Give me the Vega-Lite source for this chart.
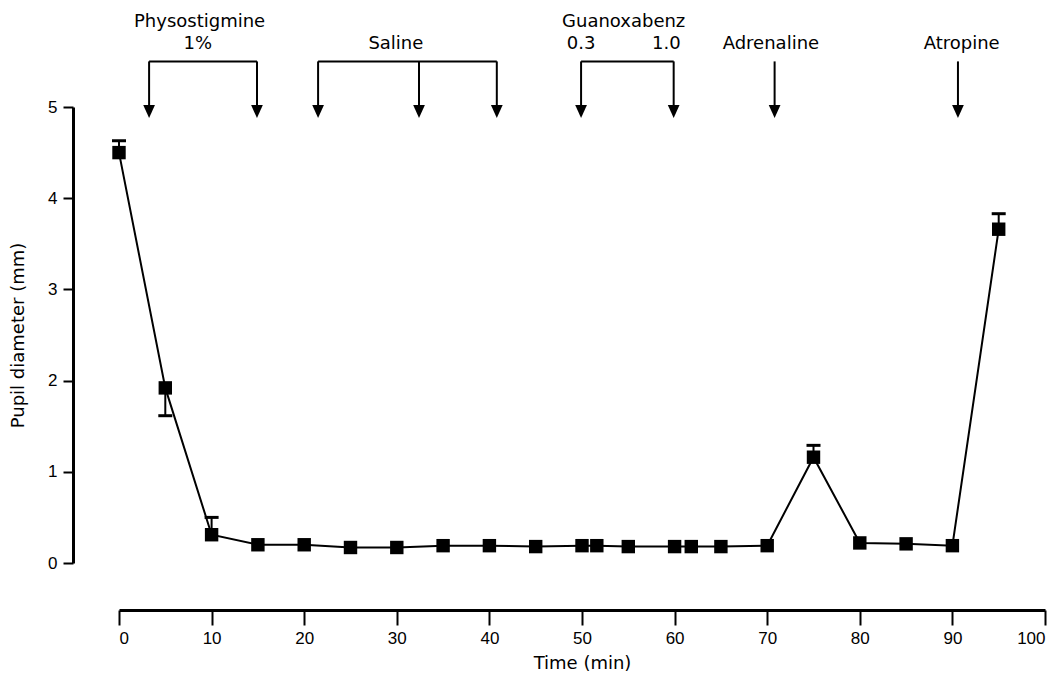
{
  "$schema": "https://vega.github.io/schema/vega-lite/v6.json",
  "width": 926,
  "height": 456,
  "autosize": {"type": "none"},
  "padding": {"left": 119, "top": 107, "right": 15, "bottom": 117},
  "background": "white",
  "config": {
    "view": {"stroke": null},
    "axis": {
      "grid": false,
      "domainColor": "black",
      "tickColor": "black",
      "labelColor": "black",
      "titleColor": "black",
      "labelFont": "Liberation Sans",
      "titleFont": "DejaVu Sans",
      "labelFontSize": 17,
      "titleFontSize": 18,
      "titleFontWeight": "normal",
      "domainWidth": 3,
      "tickWidth": 2
    }
  },
  "datasets": {
    "pts": [
      {"time": 0, "d": 4.5},
      {"time": 5, "d": 1.92},
      {"time": 10, "d": 0.31},
      {"time": 15, "d": 0.2},
      {"time": 20, "d": 0.2},
      {"time": 25, "d": 0.17},
      {"time": 30, "d": 0.17},
      {"time": 35, "d": 0.19},
      {"time": 40, "d": 0.19},
      {"time": 45, "d": 0.18},
      {"time": 50, "d": 0.19},
      {"time": 51.6, "d": 0.19},
      {"time": 55, "d": 0.18},
      {"time": 60, "d": 0.18},
      {"time": 61.8, "d": 0.18},
      {"time": 65, "d": 0.18},
      {"time": 70, "d": 0.19},
      {"time": 75, "d": 1.16},
      {"time": 80, "d": 0.22},
      {"time": 85, "d": 0.21},
      {"time": 90, "d": 0.19},
      {"time": 95, "d": 3.66}
    ],
    "err": [
      {"time": 0, "d": 4.5, "d2": 4.63},
      {"time": 5, "d": 1.92, "d2": 1.615},
      {"time": 10, "d": 0.31, "d2": 0.5},
      {"time": 75, "d": 1.16, "d2": 1.29},
      {"time": 95, "d": 3.66, "d2": 3.83}
    ],
    "brackets": [
      {"time": 3.25, "time2": 14.9, "d": 5.5},
      {"time": 21.5, "time2": 40.8, "d": 5.5},
      {"time": 49.9, "time2": 59.9, "d": 5.5}
    ],
    "arrows": [
      {"time": 3.25, "d": 5.5, "d2": 4.97},
      {"time": 14.9, "d": 5.5, "d2": 4.97},
      {"time": 21.5, "d": 5.5, "d2": 4.97},
      {"time": 32.4, "d": 5.5, "d2": 4.97},
      {"time": 40.8, "d": 5.5, "d2": 4.97},
      {"time": 49.9, "d": 5.5, "d2": 4.97},
      {"time": 59.9, "d": 5.5, "d2": 4.97},
      {"time": 70.8, "d": 5.5, "d2": 4.97},
      {"time": 90.6, "d": 5.5, "d2": 4.97}
    ],
    "heads": [
      {"time": 3.25, "d": 4.95},
      {"time": 14.9, "d": 4.95},
      {"time": 21.5, "d": 4.95},
      {"time": 32.4, "d": 4.95},
      {"time": 40.8, "d": 4.95},
      {"time": 49.9, "d": 4.95},
      {"time": 59.9, "d": 4.95},
      {"time": 70.8, "d": 4.95},
      {"time": 90.6, "d": 4.95}
    ],
    "labels": [
      {"time": 8.7, "d": 5.877, "label": "Physostigmine"},
      {"time": 8.5, "d": 5.64, "label": "1%"},
      {"time": 29.9, "d": 5.64, "label": "Saline"},
      {"time": 54.5, "d": 5.877, "label": "Guanoxabenz"},
      {"time": 49.9, "d": 5.64, "label": "0.3"},
      {"time": 59.1, "d": 5.64, "label": "1.0"},
      {"time": 70.4, "d": 5.64, "label": "Adrenaline"},
      {"time": 91.0, "d": 5.64, "label": "Atropine"}
    ]
  },
  "layer": [
    {
      "data": {"name": "pts"},
      "mark": {"type": "line", "color": "black", "strokeWidth": 2},
      "encoding": {
        "x": {
          "field": "time",
          "type": "quantitative",
          "scale": {"domain": [0, 100], "nice": false},
          "axis": {
            "values": [0, 10, 20, 30, 40, 50, 60, 70, 80, 90, 100],
            "format": "d",
            "offset": 47,
            "tickSize": 15,
            "labelPadding": 5,
            "title": "Time (min)",
            "titlePadding": 8
          }
        },
        "y": {
          "field": "d",
          "type": "quantitative",
          "scale": {"domain": [0, 5], "nice": false},
          "axis": {
            "values": [0, 1, 2, 3, 4, 5],
            "format": "d",
            "offset": 46,
            "tickSize": 10,
            "labelPadding": 6,
            "title": "Pupil diameter (mm)",
            "titlePadding": 20
          }
        }
      }
    },
    {
      "data": {"name": "err"},
      "mark": {"type": "rule", "color": "black", "strokeWidth": 2},
      "encoding": {
        "x": {"field": "time", "type": "quantitative"},
        "y": {"field": "d", "type": "quantitative"},
        "y2": {"field": "d2"}
      }
    },
    {
      "data": {"name": "err"},
      "mark": {"type": "tick", "color": "black", "orient": "horizontal", "size": 14, "thickness": 3, "opacity": 1},
      "encoding": {
        "x": {"field": "time", "type": "quantitative"},
        "y": {"field": "d2", "type": "quantitative", "title": "Pupil diameter (mm)"}
      }
    },
    {
      "data": {"name": "pts"},
      "mark": {"type": "point", "shape": "square", "filled": true, "color": "black", "size": 180, "opacity": 1},
      "encoding": {
        "x": {"field": "time", "type": "quantitative"},
        "y": {"field": "d", "type": "quantitative"}
      }
    },
    {
      "data": {"name": "brackets"},
      "mark": {"type": "rule", "color": "black", "strokeWidth": 2},
      "encoding": {
        "x": {"field": "time", "type": "quantitative"},
        "x2": {"field": "time2"},
        "y": {"field": "d", "type": "quantitative"}
      }
    },
    {
      "data": {"name": "arrows"},
      "mark": {"type": "rule", "color": "black", "strokeWidth": 2},
      "encoding": {
        "x": {"field": "time", "type": "quantitative"},
        "y": {"field": "d", "type": "quantitative"},
        "y2": {"field": "d2"}
      }
    },
    {
      "data": {"name": "heads"},
      "mark": {"type": "point", "shape": "M-0.9,-1L0.9,-1L0,1Z", "filled": true, "color": "black", "size": 170, "opacity": 1},
      "encoding": {
        "x": {"field": "time", "type": "quantitative"},
        "y": {"field": "d", "type": "quantitative"}
      }
    },
    {
      "data": {"name": "labels"},
      "mark": {"type": "text", "font": "DejaVu Sans", "fontSize": 18, "align": "center", "baseline": "alphabetic", "color": "black"},
      "encoding": {
        "x": {"field": "time", "type": "quantitative"},
        "y": {"field": "d", "type": "quantitative"},
        "text": {"field": "label"}
      }
    }
  ]
}
